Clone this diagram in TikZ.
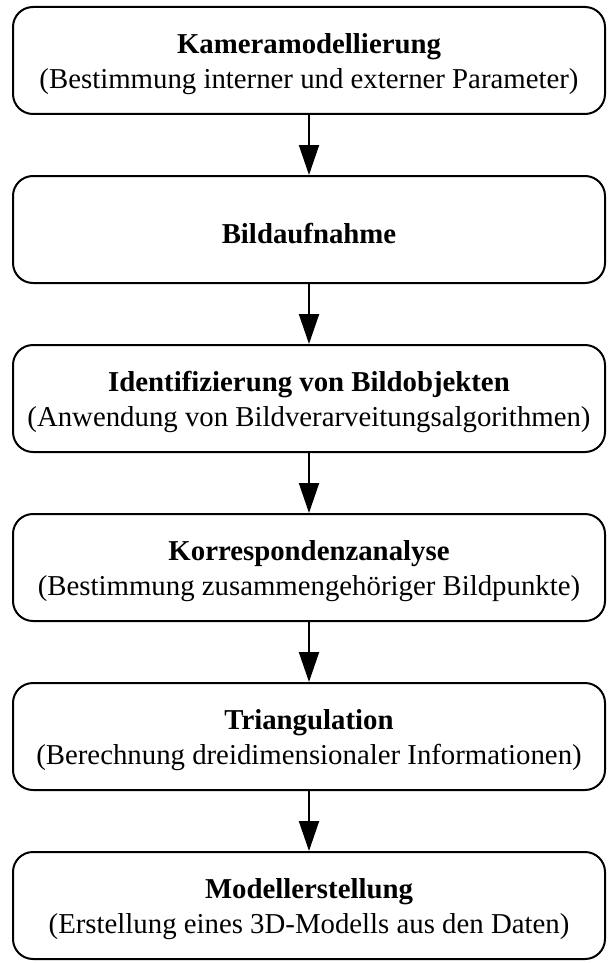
\documentclass[tikz,border=0pt]{standalone}
\usepackage{fontspec}
\setmainfont{Liberation Serif}
\usetikzlibrary{positioning,arrows.meta}

\newcommand{\boxtitle}[1]{\rule{0pt}{14pt}\textbf{#1}}

\begin{document}
\begin{tikzpicture}[node distance=30pt,
        box/.style={rectangle,draw=black,line width=1pt,rounded corners=10pt,
            minimum width=296pt,minimum height=53.5pt,inner sep=2pt,align=center,
            font=\fontsize{14.4}{17.5}\selectfont},
        arr/.style={line width=1pt,-{Triangle[width=10pt,length=15pt]}}]

        \useasboundingbox (0,0) rectangle (304.5pt,-481.5pt);

        \node[box] (kamera) at (154.5pt,-30.25pt) {\boxtitle{Kameramodellierung}\\(Bestimmung interner und externer Parameter)};
        \node[box,below=of kamera] (aufnahme) {\boxtitle{Bildaufnahme}};
        \node[box,below=of aufnahme] (ident) {\boxtitle{Identifizierung von Bildobjekten}\\(Anwendung von Bildverarveitungsalgorithmen)};
        \node[box,below=of ident] (korr) {\boxtitle{Korrespondenzanalyse}\\(Bestimmung zusammengehöriger Bildpunkte)};
        \node[box,below=of korr] (triang) {\boxtitle{Triangulation}\\(Berechnung dreidimensionaler Informationen)};
        \node[box,below=of triang] (modell) {\boxtitle{Modellerstellung}\\(Erstellung eines 3D-Modells aus den Daten)};

        \draw[arr] (kamera) -- (aufnahme);
        \draw[arr] (aufnahme) -- (ident);
        \draw[arr] (ident) -- (korr);
        \draw[arr] (korr) -- (triang);
        \draw[arr] (triang) -- (modell);
    \end{tikzpicture}
\end{document}
